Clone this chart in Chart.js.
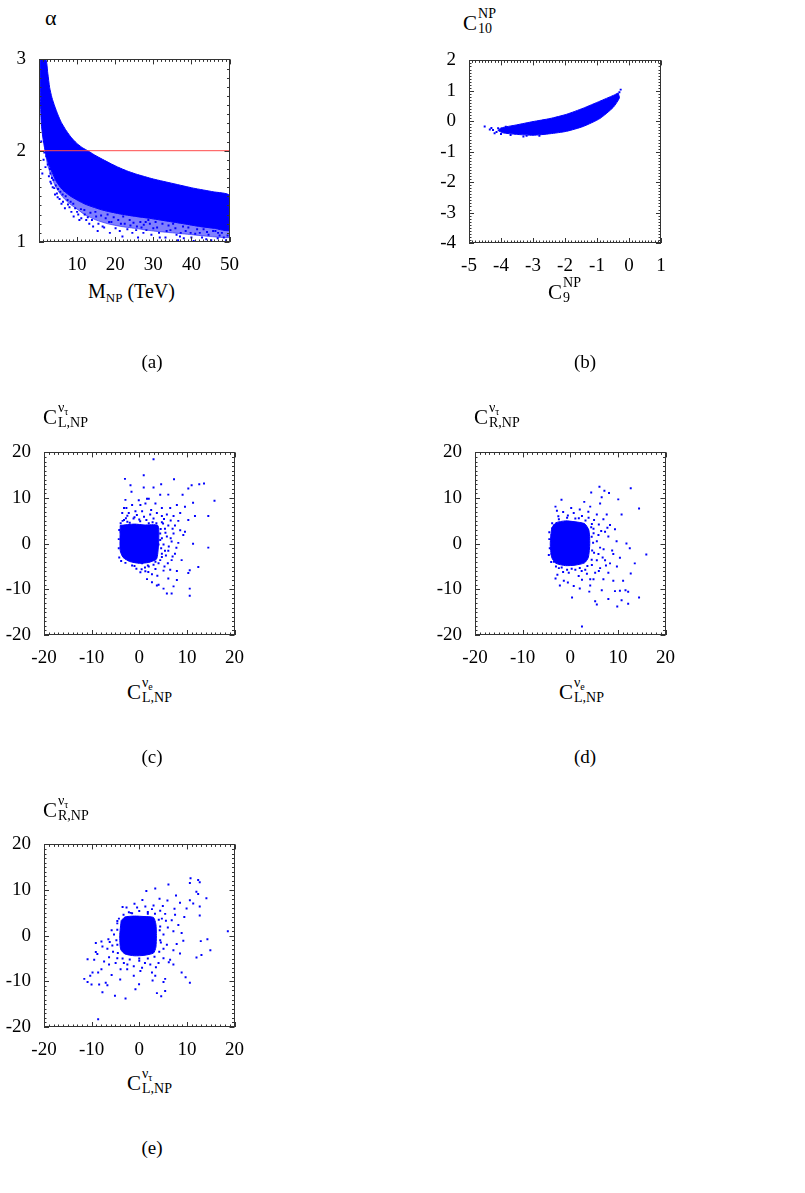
<!DOCTYPE html>
<html>
<head>
<meta charset="utf-8">
<script src="https://cdn.jsdelivr.net/npm/chart.js@4.4.1/dist/chart.umd.min.js"></script>
<style>
body { margin: 0; background: #fff; width: 805px; height: 1193px; position: relative; overflow: hidden; font-family: 'Liberation Serif', serif; }
canvas { position: absolute; }
.lab { position: absolute; font-size: 21px; line-height: 24px; white-space: nowrap; color: #000; }
.lab sub { font-size: 13px; vertical-align: -4px; line-height: 0; }
.st { display: inline-flex; flex-direction: column; font-size: 14px; line-height: 15px; vertical-align: 12px; margin-left: 1px; }
.st sub { font-size: 10px; vertical-align: -3px; }
.cap { position: absolute; font-size: 19px; line-height: 20px; width: 60px; text-align: center; color: #000; }
</style>
</head>
<body>
<canvas id="pa" width="250" height="242" style="left:1px;top:35px"></canvas>
<canvas id="pb" width="250" height="242" style="left:431px;top:36px"></canvas>
<canvas id="pc" width="250" height="242" style="left:6px;top:428px"></canvas>
<canvas id="pd" width="250" height="242" style="left:437px;top:428px"></canvas>
<canvas id="pe" width="250" height="242" style="left:6px;top:820px"></canvas>

<div class="lab" style="left:45px;top:6px;font-size:22px">α</div>
<div class="lab" style="left:88px;top:279px;font-size:20px">M<sub>NP</sub> (TeV)</div>
<div class="lab" style="left:463px;top:6px">C<span class="st"><span>NP</span><span>10</span></span></div>
<div class="lab" style="left:548px;top:275px">C<span class="st"><span>NP</span><span>9</span></span></div>
<div class="lab" style="left:43px;top:400px">C<span class="st"><span>ν<sub>τ</sub></span><span>L,NP</span></span></div>
<div class="lab" style="left:127px;top:675px">C<span class="st"><span>ν<sub>e</sub></span><span>L,NP</span></span></div>
<div class="lab" style="left:474px;top:400px">C<span class="st"><span>ν<sub>τ</sub></span><span>R,NP</span></span></div>
<div class="lab" style="left:559px;top:675px">C<span class="st"><span>ν<sub>e</sub></span><span>L,NP</span></span></div>
<div class="lab" style="left:43px;top:793px">C<span class="st"><span>ν<sub>τ</sub></span><span>R,NP</span></span></div>
<div class="lab" style="left:127px;top:1066px">C<span class="st"><span>ν<sub>τ</sub></span><span>L,NP</span></span></div>

<div class="cap" style="left:122px;top:352px">(a)</div>
<div class="cap" style="left:555px;top:352px">(b)</div>
<div class="cap" style="left:122px;top:747px">(c)</div>
<div class="cap" style="left:555px;top:747px">(d)</div>
<div class="cap" style="left:122px;top:1138px">(e)</div>

<script>
// (a) alpha vs M_NP
var aBandTop = [[0.3,3.0],[1.8,3.0],[2.3,2.85],[2.8,2.69],[3.4,2.58],[4.1,2.49],[5.0,2.39],[5.85,2.31],[7.0,2.23],[8.0,2.17],[9.0,2.12],[10.2,2.07],[11.5,2.03],[12.8,2.0],[14.5,1.955],[16.7,1.905],[19,1.855],[21,1.815],[23,1.78],[25.4,1.745],[30,1.69],[35.2,1.64],[40.5,1.59],[45.7,1.55],[50,1.51]];
var aBandBottom = [[0.3,3.0],[0.35,2.6],[0.6,2.3],[1.0,2.15],[1.6,2.0],[2.5,1.86],[3.5,1.76],[4.6,1.66],[6.0,1.58],[8.0,1.51],[10,1.46],[12.4,1.41],[16.7,1.35],[21,1.31],[25.4,1.28],[29,1.26],[33.5,1.23],[38,1.2],[42.2,1.17],[46,1.15],[50,1.13]];
// lower edge of the speckled fringe under the solid band
var aFringeBottom = [[1.6,2.0],[2.2,1.85],[3.0,1.75],[4.0,1.64],[5.0,1.56],[6.5,1.48],[8.0,1.42],[10,1.36],[12,1.3],[15,1.24],[18,1.2],[21.5,1.17],[25,1.15],[30,1.12],[35,1.1],[40,1.08],[45,1.06],[50,1.05]];
var aScatter = [[0.87,1.75],[1.9,1.94],[2.3,1.85],[2.9,1.8],[3.4,1.7],[3.2,1.64],[4.0,1.59],[4.7,1.53],[5.4,1.47],[5.9,1.42],[6.7,1.56],[8.0,1.38],[8.5,1.33],[9.1,1.28],[10.6,1.24],[12.4,1.24],[13.2,1.2],[15.4,1.12],[16.7,1.17],[18.4,1.22],[20.1,1.15],[21.9,1.06],[23.2,1.14],[24.5,1.1],[21.5,1.2],
  [25.7,1.17],[27.4,1.1],[30.0,1.15],[31.7,1.05],[33.5,1.12],[36.1,1.08],[37.8,1.17],[40.0,1.05],[42.2,1.1],[43.9,1.03],[45.7,1.12],[47.4,1.07],[49.1,1.02],[49.6,1.14],[35.2,1.2],[26.6,1.22],[28.7,1.24],
  [3.0,1.75],[3.8,1.68],[5.0,1.58],[6.2,1.52],[7.5,1.46],[9.0,1.42],[11,1.36],[13.5,1.32],[15,1.28],[17.5,1.26],[19,1.22],[22.5,1.2],[24,1.18],[27.5,1.19],[31,1.16],[34.5,1.13],[38.5,1.12],[41,1.09],[44.5,1.08],[47,1.1],[48.5,1.05],[36.5,1.02],[29.5,1.08],[26,1.05],[18.6,1.1],[14.2,1.17],[12,1.3],[10,1.33],[7,1.5],[4.4,1.62],[2.3,1.92],[1.4,1.98],[0.6,2.1],[2.2,1.94],
  [1.2,1.9],[1.7,1.82],[2.6,1.72],[3.0,1.66],[3.6,1.6],[4.2,1.52],[4.9,1.49],[5.6,1.55],[6.3,1.44],[6.8,1.37],[7.6,1.41],[8.3,1.44],[9.5,1.37],[10.3,1.3],[11.1,1.26],[11.9,1.35],[12.8,1.27],[13.9,1.24],[14.8,1.33],[15.6,1.2],[16.3,1.29],[17.1,1.16],[18,1.3],[19.6,1.27],[20.8,1.24],[21.2,1.12],[22.1,1.28],[23.8,1.24],[24.8,1.21],[25.5,1.13],[26.9,1.16],[28,1.22],[28.2,1.13],[29.1,1.2],[30.6,1.22],[31.5,1.1],[32.4,1.2],[33.2,1.05],[34,1.18],[35.8,1.15],[36.9,1.22],[37.2,1.1],[38,1.04],[39.2,1.16],[39.8,1.1],[40.6,1.01],[41.5,1.14],[42.8,1.05],[43.2,1.14],[44.1,1.11],[45.2,1.02],[46.3,1.12],[46.9,1.04],[48,1.1],[48.9,1.15],[49.5,1.07],[37,1.06]];
var aLimit = 2;

// (b) C10 vs C9
var bBandTop = [[-4.1,-0.3],[-4.0,-0.22],[-3.52,-0.12],[-3.0,-0.01],[-2.47,0.09],[-1.95,0.23],[-1.43,0.43],[-0.91,0.66],[-0.49,0.85],[-0.34,0.93]];
var bBandBottom = [[-4.1,-0.3],[-3.94,-0.38],[-3.52,-0.43],[-3.0,-0.46],[-2.47,-0.41],[-1.95,-0.33],[-1.43,-0.17],[-0.91,0.09],[-0.49,0.46],[-0.3,0.77],[-0.34,0.93]];
var bScatter = [[-4.51,-0.17],[-4.35,-0.27],[-4.25,-0.29],[-4.14,-0.35],[-4.09,-0.23],[-4.2,-0.39],[-3.2,-0.48],[-0.26,1.04],[-3.85,-0.18],[-3.7,-0.45],[-3.3,-0.5],[-4.3,-0.22],[-4.0,-0.42],[-2.8,-0.48],[-0.3,0.95]];

// (c) C_L^nu_tau vs C_L^nu_e
var cCore = [[-4.0,4.0],[-1,4.3],[1,4.1],[3.9,4.0],[4.1,1],[3.9,-2],[3.6,-3.4],[2,-4.1],[0,-4.3],[-2,-3.9],[-3.4,-3.0],[-4.0,-1.5],[-4.0,4.0]];
var cScatter = [[3.0,18.5],[0.94,15.0],[-3.0,14.2],[7.3,14.1],[-1.84,12.8],[-1.63,11.4],[0.94,12.3],[3.0,12.3],[4.6,13.0],[11.0,12.8],[10.3,12.1],[12.6,13.0],[13.6,13.2],[15.8,9.4],[14.5,6.05],[9.1,10.7],[6.1,10.75],[4.4,10.7],[1.63,9.85],[2.0,9.85],[-0.1,9.5],[-2.9,9.6],
  [-3.2,7.8],[-2.7,7.8],[-1.5,8.5],[0.24,8.5],[1.3,8.8],[3.4,8.8],[4.75,7.8],[6.5,7.8],[7.9,8.5],[9.6,8.1],[11.3,8.96],[11.7,6.05],[10.3,5.2],[8.6,6.7],[7.2,6.05],[5.8,6.4],[4.75,4.7],[6.1,4.0],[7.5,4.0],[8.6,2.95],[9.6,2.6],[7.2,2.25],[5.8,1.56],[6.8,0.5],[5.1,-0.17],[8.2,0.18],[11.3,-0.03],[14.5,-0.86],[9.25,1.9],
  [6.1,-1.55],[7.5,-2.2],[4.75,-2.9],[6.8,-3.6],[8.9,-3.6],[12.4,-5.1],[10.6,-5.8],[10.3,-6.4],[7.9,-5.97],[6.5,-5.7],[5.1,-5.9],[3.4,-5.55],[4.05,-4.3],[2.0,-5.0],[1.28,-6.04],[0.24,-6.25],[2.67,-6.7],[1.63,-7.76],[6.1,-7.6],[7.9,-7.97],[2.67,-8.46],[3.7,-9.15],[4.06,-9.0],[5.1,-9.84],[7.2,-9.35],[5.8,-10.9],[6.8,-10.9],[10.6,-9.84],[10.6,-11.4],
  [-3.57,6.74],[-2.2,6.74],[-0.8,7.1],[0.6,7.1],[2.3,6.4],[3.7,6.74],[4.75,6.05],[5.4,3.3],[4.4,2.25],[4.75,1.2],[4.05,-0.17],[5.4,-1.55],[4.75,-2.2],[3.4,-3.96],[0.6,-4.3],[-0.8,-3.96],[-2.2,-3.3],[-3.2,-2.2],[-3.7,-0.17],[-3.9,2.6],[-3.2,5.2],[-1.2,5.5],[1.5,5.2],[-2.5,4.8],[0.2,4.9],[2.8,4.7],[-1.5,-4.8],[1.2,-5.2],
  [-3.5,5.0],[-2.8,5.6],[-2.0,4.6],[-1.0,5.8],[0,5.3],[1.0,5.9],[2.0,4.5],[3.0,5.5],[3.6,4.5],[-3.9,4.5],[-4.2,3],[-4.3,1],[-4.3,-1],[-4.2,-3],[-3.8,-3.8],[-2.9,-4.2],[-1.0,-4.9],[0.5,-5.6],[1.8,-4.8],[3.0,-4.6],[4.4,-3.6],[4.6,-1.0],[4.4,0.8],[4.5,3.2],[5.0,4.4],[5.5,2.4],[6.2,-0.6],[5.6,-2.6],[6.0,-4.3],[7.0,-2.8],[7.8,-0.9],[6.6,1.2],[7.0,3.3],[5.2,5.4],[6.6,5.1],[8.2,5.0],[2.5,7.4],[-0.5,6.3],[-2.5,6.1],[1.9,-6.2],[3.8,-7.0],[5.3,-5.0],[-0.6,-5.5]];

// (d) C_R^nu_tau vs C_L^nu_e
var dCore = [[-3.9,3.5],[-3,4.6],[-1,5.0],[1,4.8],[3,4.4],[3.9,3],[4.1,0],[3.8,-3],[3,-4.2],[1,-4.7],[-1,-4.8],[-3,-4.3],[-3.9,-3],[-4.2,0],[-3.9,3.5]];
var dScatter = [[6.13,12.5],[8.14,11.1],[7.17,11.58],[4.4,11.23],[12.7,12.13],[6.6,10.2],[-1.84,9.64],[10.08,9.71],[14.45,7.71],[-3.1,8.12],[2.94,9.16],[6.27,8.81],[4.19,8.12],[-1.49,6.95],[0.73,6.74],[5.58,6.4],[7.66,6.4],[10.78,6.4],[6.96,5.36],[8.35,4.12],[9.39,3.15],[7.31,2.6],[8.0,1.56],[9.73,0.52],[11.8,0.04],[12.5,-1.0],[15.97,-2.38],
  [10.43,-3.07],[13.55,-4.31],[12.7,-6.52],[11.1,-8.11],[9.04,-2.24],[8.35,-4.31],[7.31,-3.62],[6.27,-5.35],[8.0,-6.38],[6.96,-7.77],[9.04,-8.11],[6.62,-10.18],[9.39,-10.39],[10.43,-10.32],[11.6,-10.18],[12.16,-10.53],[8.0,-12.1],[10.78,-12.4],[14.45,-11.77],[12.16,-13.16],[9.87,-13.78],[5.23,-12.6],[5.58,-13.3],[0.38,-11.77],[2.46,-18.13],
  [-2.18,-9.15],[-1.35,-8.11],[0.73,-9.29],[2.46,-7.9],[4.19,-9.15],[4.88,-7.77],[-3.09,-7.63],[-0.31,-6.38],[1.77,-7.08],[5.23,-6.38],[4.54,-4.66],[5.58,-3.62],[5.92,-2.24],[6.27,-0.86],[5.58,0.52],[5.92,1.9],[4.88,3.29],[4.54,4.32],[3.85,5.7],[2.46,6.05],[1.07,5.5],[-0.66,5.7],[-2.39,5.36],[-3.43,3.98],[-3.92,1.9],[-3.92,-2.24],[-3.43,-3.97],[-2.39,-5.35],[-0.66,-5.7],[1.07,-5.7],[3.15,-5.7],[4.19,-7.77],[-4.3,-1.0],[-4.4,1.0],[4.5,1.5],[4.6,-1.5],[2.0,-5.3],[-1.8,-5.2],
  [-4.4,2.5],[-4.5,-2.5],[-3.8,4.5],[-2.5,6.0],[-0.5,6.2],[1.8,5.6],[3.2,5.1],[4.4,3.6],[4.9,2.3],[4.8,0.2],[5.0,-2.0],[4.5,-3.5],[3.6,-4.9],[2.4,-6.0],[0.3,-5.5],[-1.5,-6.2],[-3.0,-5.0],[-4.0,-4.0],[6.5,2.8],[7.0,-1.2],[6.8,-3.0],[7.5,-4.8],[6.0,-6.0],[3.5,-6.6],[5.0,5.2],[6.0,4.2],[-2.8,7.2],[0.2,7.8],[2.0,7.5],[3.8,7.0],[7.8,3.5],[8.8,-1.5],[9.8,-5.0],[4.0,-10.5],[2.0,-9.8],[-0.5,-8.5],[-2.7,-6.8]];

// (e) C_R^nu_tau vs C_L^nu_tau
var eCore = [[-3.8,3.3],[-3,4.1],[-1,4.3],[1,4.2],[3,4.0],[3.5,2.5],[3.6,0],[3.5,-2.5],[3.0,-3.8],[1,-4.3],[-1,-4.4],[-3,-4.0],[-3.9,-3],[-4.1,0],[-3.8,3.3]];
var eScatter = [[10.77,12.56],[10.63,11.52],[12.37,12.21],[12.7,11.7],[6.13,11.24],[3.36,10.34],[1.49,9.78],[12.0,9.64],[12.37,9.15],[14.1,8.18],[11.33,7.07],[12.7,6.38],[10.63,7.77],[8.56,7.21],[7.72,8.81],[4.26,8.11],[5.92,7.7],[0.66,7.84],[9.94,5.96],[12.7,4.43],[9.46,4.09],[18.6,0.96],[7.52,4.57],[6.82,3.39],[8.21,2.35],[7.17,0.96],[8.9,0.61],[9.25,-1.12],[14.31,-0.78],[12.92,-1.19],[14.93,-3.2],[13.06,-4.25],[12.02,-4.8],
  [7.86,-1.82],[7.17,-3.2],[8.56,-3.9],[6.48,-5.29],[7.17,-6.33],[8.9,-8.07],[9.73,-9.11],[10.63,-10.29],[5.44,-9.46],[5.09,-10.15],[3.71,-12.58],[4.61,-13.28],[5.44,-12.1],[2.67,-8.07],[3.36,-8.76],[0.24,-7.72],[-1.15,-8.76],[-0.04,-10.64],[-0.8,-11.75],[-2.88,-13.76],[-5.1,-13.14],[-6.69,-10.85],[-7.04,-10.29],[-7.73,-12.37],[-8.42,-10.71],[-8.63,-8.07],[-9.81,-8.07],[-10.29,-8.76],[-11.54,-9.46],[-10.85,-10.15],[-10.02,-10.71],[-8.63,-18.28],
  [-7.94,-7.37],[-6.34,-6.33],[-4.96,-5.98],[-6.34,-4.73],[-7.38,-5.64],[-9.46,-5.29],[-10.85,-5.15],[-9.12,-3.55],[-7.73,-2.37],[-6.69,-2.86],[-5.65,-2.16],[-9.12,-1.61],[-7.94,-1.26],[-6.48,-0.78],[-5.3,0.27],[-4.61,1.31],[-4.61,2.7],[-4.27,3.74],[-2.67,6.17],[-2.18,5.13],[-0.45,6.17],[1.28,6.38],[2.67,5.82],[4.4,5.47],[4.95,6.52],[5.44,4.78],[4.75,3.74],[4.4,2.0],[5.09,0.27],[4.54,-1.47],[5.09,-2.86],[5.09,-4.94],[4.05,-5.98],[2.32,-6.33],[0.59,-7.02],[-1.15,-6.68],[-2.53,-7.37],[-3.92,-7.37],[-3.23,-5.98],[-4.61,-4.94],[-4.6,-2.0],[-1.5,4.9],[1.8,4.8],[0,-5.0],
  [-4.6,3.2],[-4.8,-1.0],[-4.5,-3.8],[-3.5,-5.0],[-2.0,-5.2],[0,-5.5],[1.8,-5.0],[3.2,-4.6],[4.2,-3.5],[4.4,-1.0],[4.3,1.2],[4.1,3.5],[3.3,4.8],[1.8,5.2],[0,5.4],[-1.8,5.0],[-3.3,4.6],[-5.8,1.2],[-6.2,-1.4],[-5.5,-3.5],[-2.5,-6.3],[1.2,-6.0],[3.5,-6.9],[5.8,-2.0],[6.0,1.8],[5.6,3.3],[3.0,6.6],[-1.0,7.0],[-3.5,6.3],[6.2,-5.8],[2.8,-9.8],[-5.8,-8.6],[-4.0,-9.6],[7.4,5.9],[-8.8,-4.0]];

var BLUE = '#0000ff';

function xy(list) {
    return list.map(function (p) { return { x: p[0], y: p[1] }; });
}

function polygon(top, bottom) {
    return top.concat(bottom.slice().reverse());
}

// frame and inward ticks on all four sides, gnuplot style
var frameTicks = {
    id: 'frameTicks',
    afterDraw: function (chart, args, opts) {
        var ctx = chart.ctx, a = chart.chartArea;
        var sx = chart.scales.x, sy = chart.scales.y;
        var n, v, p, len;
        ctx.save();
        ctx.strokeStyle = '#333';
        ctx.lineWidth = 1;
        ctx.beginPath();
        for (n = 0; ; n++) {
            v = sx.min + n * opts.xStep / 10;
            if (v > sx.max + 1e-9) break;
            len = n % 10 === 0 ? 5 : 2.5;
            p = Math.round(sx.getPixelForValue(v)) + 0.5;
            ctx.moveTo(p, a.bottom); ctx.lineTo(p, a.bottom - len);
            ctx.moveTo(p, a.top); ctx.lineTo(p, a.top + len);
        }
        for (n = 0; ; n++) {
            v = sy.min + n * opts.yStep / 10;
            if (v > sy.max + 1e-9) break;
            len = n % 10 === 0 ? 5 : 2.5;
            p = Math.round(sy.getPixelForValue(v)) + 0.5;
            ctx.moveTo(a.left, p); ctx.lineTo(a.left + len, p);
            ctx.moveTo(a.right, p); ctx.lineTo(a.right - len, p);
        }
        ctx.stroke();
        ctx.strokeRect(Math.round(a.left) + 0.5, Math.round(a.top) + 0.5,
            Math.round(a.right - a.left) - 1, Math.round(a.bottom - a.top) - 1);
        ctx.restore();
    }
};

function axis(min, max, step, isX, cb) {
    return {
        type: 'linear',
        min: min,
        max: max,
        grid: { display: false, drawTicks: false },
        border: { display: false },
        ticks: {
            stepSize: step,
            autoSkip: false,
            maxRotation: 0,
            padding: isX ? 12 : 13,
            color: '#000',
            font: { family: 'Liberation Serif', size: 19 },
            callback: cb || function (v) { return v; }
        },
        afterFit: function (s) {
            if (isX) s.height = 35; else s.width = 38;
        }
    };
}

function makePanel(id, datasets, xr, yr, xcb) {
    return new Chart(document.getElementById(id), {
        type: 'scatter',
        data: { datasets: datasets },
        options: {
            responsive: false,
            animation: false,
            events: [],
            devicePixelRatio: 1,
            layout: { padding: { top: 15, right: 20, left: 0, bottom: 0 } },
            scales: {
                x: axis(xr[0], xr[1], xr[2], true, xcb),
                y: axis(yr[0], yr[1], yr[2], false)
            },
            plugins: {
                legend: { display: false },
                tooltip: { enabled: false },
                frameTicks: { xStep: xr[2], yStep: yr[2] }
            }
        },
        plugins: [frameTicks]
    });
}

function cloud(shape, color) {
    return {
        data: xy(shape),
        showLine: true,
        fill: 'shape',
        borderColor: color || BLUE,
        backgroundColor: color || BLUE,
        borderWidth: 1,
        pointRadius: 0,
        tension: 0.2
    };
}

function dots(list) {
    return {
        data: xy(list),
        pointStyle: 'rect',
        pointRadius: 1.4,
        borderWidth: 0,
        backgroundColor: BLUE
    };
}

// first dataset is painted last, so the red limit line sits on top of the band
makePanel('pa', [
    {
        data: [{ x: 0, y: aLimit }, { x: 50, y: aLimit }],
        showLine: true,
        borderColor: '#ff4a4a',
        borderWidth: 1,
        pointRadius: 0
    },
    cloud(polygon(aBandTop, aBandBottom)),
    dots(aScatter),
    cloud(polygon(aBandBottom.slice(4), aFringeBottom), 'rgba(0,0,255,0.5)')
], [0, 50, 10], [1, 3, 1], function (v) { return v === 0 ? '' : v; });

makePanel('pb', [cloud(polygon(bBandTop, bBandBottom)), dots(bScatter)], [-5, 1, 1], [-4, 2, 1]);
makePanel('pc', [cloud(cCore), dots(cScatter)], [-20, 20, 10], [-20, 20, 10]);
makePanel('pd', [cloud(dCore), dots(dScatter)], [-20, 20, 10], [-20, 20, 10]);
makePanel('pe', [cloud(eCore), dots(eScatter)], [-20, 20, 10], [-20, 20, 10]);
</script>
</body>
</html>
